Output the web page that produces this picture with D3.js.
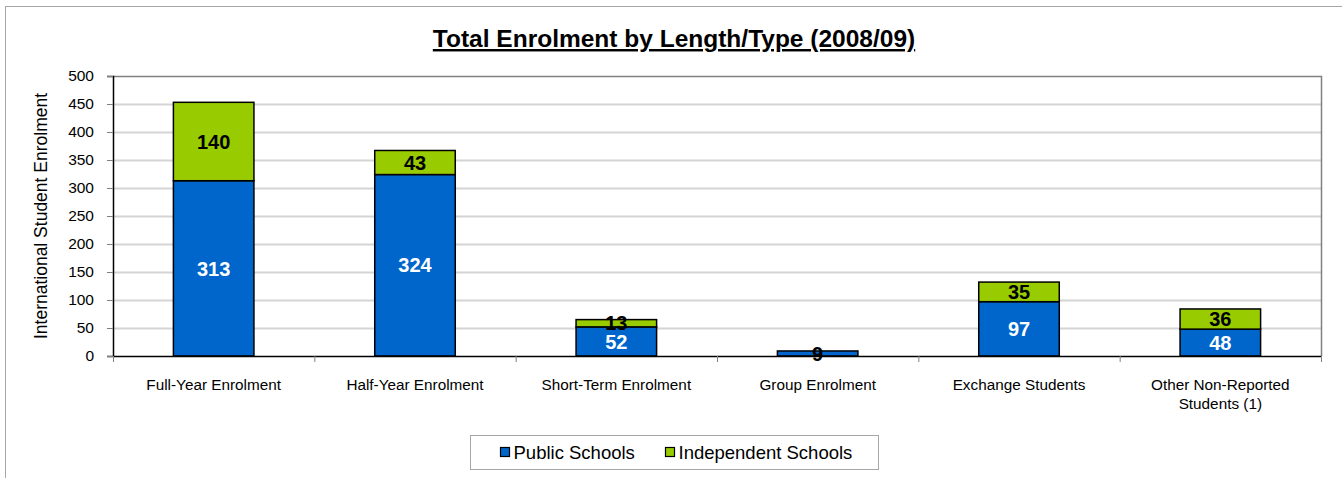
<!DOCTYPE html>
<html>
<head>
<meta charset="utf-8">
<script src="https://cdn.jsdelivr.net/npm/d3@7"></script>
<style>
  body { margin: 0; background: #fff; }
  text { font-family: "Liberation Sans", Arial, sans-serif; }
</style>
</head>
<body>
<div id="chart"></div>
<script>
// DATA
var categories = [
  "Full-Year Enrolment",
  "Half-Year Enrolment",
  "Short-Term Enrolment",
  "Group Enrolment",
  "Exchange Students",
  "Other Non-Reported|Students (1)",
];
var publicSchools = [313, 324, 52, 9, 97, 48];
var independentSchools = [140, 43, 13, 0, 35, 36];
var seriesNames = ["Public Schools", "Independent Schools"];
var yTicks = [0, 50, 100, 150, 200, 250, 300, 350, 400, 450, 500];

// CHART SETUP
var W = 1342, H = 478;
var blue = "#0066cc", green = "#99cc00";
var margin = { top: 76, right: 21, bottom: 122, left: 113 },
  width = W - margin.left - margin.right,
  height = H - margin.top - margin.bottom;

var svg = d3.select("#chart").append("svg")
  .attr("width", W).attr("height", H);

// outer chart border
svg.append("rect")
  .attr("x", 5.5).attr("y", 6.5)
  .attr("width", W + 10).attr("height", H + 10)
  .attr("fill", "none").attr("stroke", "#a6a6a6").attr("stroke-width", 1);

// TITLE
svg.append("text")
  .attr("x", 674).attr("y", 47)
  .attr("text-anchor", "middle")
  .style("font-size", "24.5px").style("font-weight", "bold")
  .style("text-decoration", "underline")
  .text("Total Enrolment by Length/Type (2008/09)");

var g = svg.append("g")
  .attr("transform", "translate(" + margin.left + "," + margin.top + ")");

// SCALES
var x = d3.scaleBand().domain(categories).range([0, width]);
var y = d3.scaleLinear().domain([0, 500]).range([height, 0]);

// GRID
g.selectAll(".grid")
  .data(yTicks.filter((d) => d > 0 && d < 500))
  .enter().append("line")
  .attr("x1", 0).attr("x2", width)
  .attr("y1", (d) => Math.round(y(d)) + 0.5)
  .attr("y2", (d) => Math.round(y(d)) + 0.5)
  .attr("stroke", "#d4d4d4").attr("stroke-width", 2);

// plot border top/right
g.append("path")
  .attr("d", "M0," + (y(500) + 0.5) + "H" + (width + 0.5) + "V" + height)
  .attr("fill", "none").attr("stroke", "#808080").attr("stroke-width", 1.5);

// BARS
var stackData = categories.map((c, i) => ({
  cat: c, pub: publicSchools[i], ind: independentSchools[i],
}));
var barW = x.bandwidth() * 0.4;
var bx = (d) => x(d.cat) + (x.bandwidth() - barW) / 2;

g.selectAll(".pub").data(stackData).enter().append("rect")
  .attr("x", bx).attr("width", barW)
  .attr("y", (d) => y(d.pub)).attr("height", (d) => y(0) - y(d.pub))
  .attr("fill", blue).attr("stroke", "#000").attr("stroke-width", 1.5);

g.selectAll(".ind").data(stackData.filter((d) => d.ind > 0)).enter().append("rect")
  .attr("x", bx).attr("width", barW)
  .attr("y", (d) => y(d.pub + d.ind)).attr("height", (d) => y(d.pub) - y(d.pub + d.ind))
  .attr("fill", green).attr("stroke", "#000").attr("stroke-width", 1.5);

// AXES
var yAxis = d3.axisLeft(y).tickValues(yTicks).tickSize(6).tickPadding(13);
var ya = g.append("g").call(yAxis);
ya.select(".domain").attr("stroke", "#000").attr("stroke-width", 1.5);
ya.selectAll(".tick line").attr("stroke", "#808080");
ya.selectAll("text").style("font-size", "15.5px").attr("fill", "#000");

var xa = g.append("g").attr("transform", "translate(0," + height + ")");
xa.append("line").attr("x1", 0).attr("x2", width + 0.5)
  .attr("y1", 0.5).attr("y2", 0.5)
  .attr("stroke", "#000").attr("stroke-width", 1.5);
xa.selectAll(".sep")
  .data(categories.map((c) => x(c)).concat([width]))
  .enter().append("line")
  .attr("x1", (d) => d + 0.5).attr("x2", (d) => d + 0.5)
  .attr("y1", 0).attr("y2", 6).attr("stroke", "#808080");
xa.selectAll(".lbl").data(categories).enter().append("text")
  .attr("x", (d) => x(d) + x.bandwidth() / 2)
  .attr("y", 34)
  .attr("text-anchor", "middle")
  .style("font-size", "15.3px")
  .each(function (d) {
    var lines = d.split("|");
    d3.select(this).selectAll("tspan").data(lines).enter().append("tspan")
      .attr("x", x(d) + x.bandwidth() / 2)
      .attr("dy", (l, i) => (i === 0 ? 0 : 19))
      .text((l) => l);
  });

// Y LABEL
svg.append("text")
  .attr("transform", "translate(47," + (margin.top + height / 2) + ") rotate(-90)")
  .attr("text-anchor", "middle")
  .style("font-size", "17.5px")
  .text("International Student Enrolment");

// DATA LABELS
g.selectAll(".plbl").data(stackData).enter().append("text")
  .attr("x", (d) => x(d.cat) + x.bandwidth() / 2)
  .attr("y", (d) => (y(0) + y(d.pub)) / 2)
  .attr("dy", "0.36em")
  .attr("text-anchor", "middle")
  .style("font-size", "20px").style("font-weight", "bold")
  .attr("fill", (d) => (d.pub < 20 ? "#000" : "#fff"))
  .text((d) => d.pub);

g.selectAll(".ilbl").data(stackData.filter((d) => d.ind > 0)).enter().append("text")
  .attr("x", (d) => x(d.cat) + x.bandwidth() / 2)
  .attr("y", (d) => (y(d.pub) + y(d.pub + d.ind)) / 2)
  .attr("dy", "0.36em")
  .attr("text-anchor", "middle")
  .style("font-size", "20px").style("font-weight", "bold")
  .attr("fill", "#000")
  .text((d) => d.ind);

// LEGEND
var legend = svg.append("g").attr("transform", "translate(470.5,435.5)");
legend.append("rect").attr("width", 408).attr("height", 34)
  .attr("fill", "#fff").attr("stroke", "#a6a6a6");
var legX = [30, 195];
seriesNames.forEach((s, i) => {
  legend.append("rect")
    .attr("x", legX[i]).attr("y", 12).attr("width", 9).attr("height", 9)
    .attr("fill", i === 0 ? blue : green).attr("stroke", "#000").attr("stroke-width", 1.2);
  legend.append("text")
    .attr("x", legX[i] + 13).attr("y", 23.5)
    .style("font-size", "18.5px")
    .text(s);
});
</script>
</body>
</html>
